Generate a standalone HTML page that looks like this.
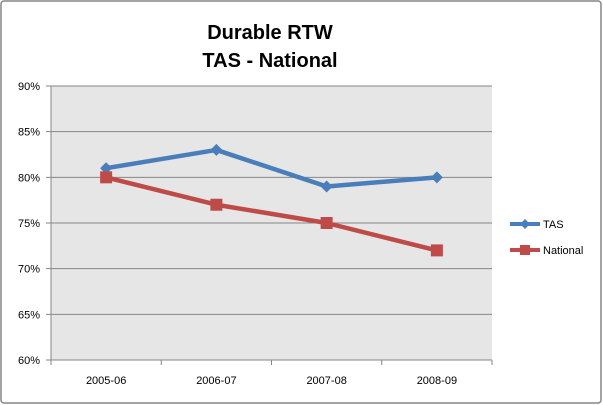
<!DOCTYPE html>
<html><head><meta charset="utf-8"><style>
body{margin:0;background:#fff}
svg{display:block;font-family:"Liberation Sans",sans-serif}
</style></head><body>
<svg width="603" height="405">
<rect x="1" y="1" width="600" height="402" rx="3" fill="#fff" stroke="#868686" stroke-width="1.5"/>
<text x="270" y="39" text-anchor="middle" font-size="20" font-weight="bold">Durable RTW</text>
<text x="270" y="67" text-anchor="middle" font-size="20" font-weight="bold">TAS - National</text>
<rect x="51" y="86" width="441" height="274" fill="#e6e6e6"/>
<g id="grid"></g><g id="axes"></g><g id="series"></g>
<g>
<line x1="510" y1="224" x2="540" y2="224" stroke="#4a7ebb" stroke-width="4"/>
<path d="M525 219L530 224L525 229L520 224Z" fill="#4a7ebb"/>
<text x="543" y="228" font-size="11">TAS</text>
<line x1="510" y1="250" x2="540" y2="250" stroke="#be4b48" stroke-width="4"/>
<rect x="520" y="245" width="10" height="10" fill="#be4b48"/>
<text x="543" y="254" font-size="11">National</text>
</g>
</svg>
<script>
const categories=["2005-06","2006-07","2007-08","2008-09"];
const tasValues=[81,83,79,80];
const nationalValues=[80,77,75,72];
const yTicks=[60,65,70,75,80,85,90];
const NS="http://www.w3.org/2000/svg";
const L=51,R=492,T=86,B=360,yMin=60,yMax=90;
const x=i=>L+(R-L)/categories.length*(i+0.5);
const y=v=>B-(v-yMin)/(yMax-yMin)*(B-T);
function mk(tag,attrs,parent){const e=document.createElementNS(NS,tag);for(const k in attrs)e.setAttribute(k,attrs[k]);parent.appendChild(e);return e;}
const grid=document.getElementById('grid'),axes=document.getElementById('axes'),series=document.getElementById('series');
yTicks.forEach(t=>{
 const g=mk('line',{x1:L-5,x2:R,y1:y(t),y2:y(t),stroke:'#868686','stroke-width':1},grid);
 
 
 const tx=mk('text',{x:L-11,y:y(t)+4,'text-anchor':'end','font-size':11},axes);
 tx.textContent=t+'%';
 
 
});
const ya=mk('line',{x1:L,x2:L,y1:T,y2:B,stroke:'#868686'},axes);


categories.forEach((c,i)=>{
 const tx=mk('text',{x:x(i),y:384,'text-anchor':'middle','font-size':11},axes);
 tx.textContent=c;
 
 
});
for(let i=0;i<=categories.length;i++){
 const xx=L+(R-L)/categories.length*i;
 const tk=mk('line',{x1:xx,x2:xx,y1:B,y2:B+5,stroke:'#868686'},axes);
 
 
}
function drawSeries(vals,color,name,marker){
 const pts=vals.map((v,i)=>x(i)+','+y(v)).join(' ');
 const pl=mk('polyline',{points:pts,fill:'none',stroke:color,'stroke-width':4.5,'stroke-linejoin':'round'},series);
 
 
 vals.forEach((v,i)=>{
  let m;
  if(marker==='diamond'){const cx=x(i),cy=y(v);m=mk('path',{d:`M${cx} ${cy-6}L${cx+6} ${cy}L${cx} ${cy+6}L${cx-6} ${cy}Z`,fill:color},series);}
  else m=mk('rect',{x:x(i)-6,y:y(v)-6,width:12,height:12,fill:color},series);
  
  
 });
}
drawSeries(tasValues,'#4a7ebb','tas','diamond');
drawSeries(nationalValues,'#be4b48','national','square');
</script>
</body></html>
